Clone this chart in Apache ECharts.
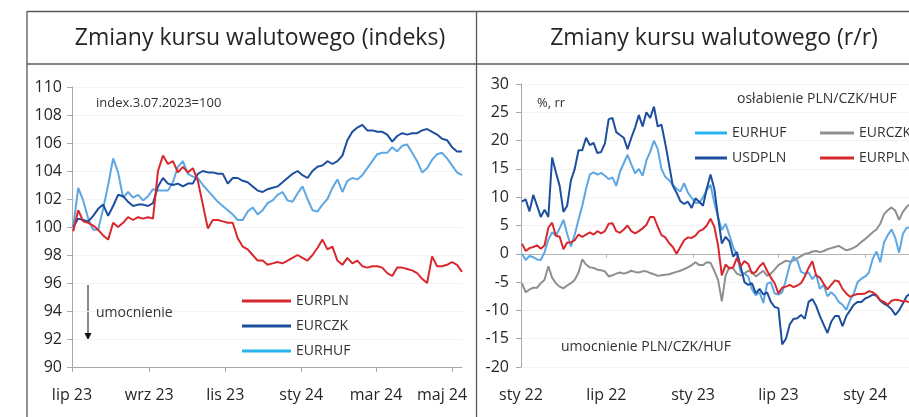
<!DOCTYPE html>
<html>
<head>
<meta charset="utf-8">
<script src="https://cdn.jsdelivr.net/npm/echarts@6/dist/echarts.min.js"></script>
<style>
  html, body { margin: 0; padding: 0; background: #fff; }
  #chart { width: 909px; height: 417px; }
</style>
</head>
<body>
<div id="chart"></div>
<script>
// ---- lewy panel: indeks, 3.07.2023 = 100 (wartosc co 4 dni, dzien 0 = 1.07.2023)
const idxDayStart = 1;
const idxDayStep = 4;
const idxTickDays = [0, 62, 123, 184, 244, 305];
const idxTickLabels = ['lip 23', 'wrz 23', 'lis 23', 'sty 24', 'mar 24', 'maj 24'];

const idxEURPLN = [
  99.7, 101.2, 100.4, 100.3, 100.1, 99.8, 99.4, 99.1, 100.3, 100.0,
  100.3, 100.7, 100.5, 100.7, 100.6, 100.7, 100.6, 104.0, 105.1, 104.5,
  104.7, 103.9, 104.3, 103.9, 104.2, 103.3, 101.6, 99.9, 100.5, 100.5,
  100.4, 100.3, 100.3, 99.2, 98.6, 98.4, 98.0, 97.6, 97.6, 97.3,
  97.4, 97.5, 97.4, 97.6, 97.8, 98.0, 97.8, 97.6, 98.0, 98.5,
  99.1, 98.4, 98.6, 97.6, 97.3, 97.8, 97.4, 97.6, 97.2, 97.1,
  97.2, 97.2, 97.1, 96.7, 96.5, 97.1, 97.1, 97.0, 96.9, 96.7,
  96.3, 96.0, 97.9, 97.2, 97.2, 97.3, 97.5, 97.3, 96.8
];
const idxEURCZK = [
  100.0, 100.6, 100.5, 100.4, 100.8, 101.3, 101.6, 100.8, 101.5, 102.3,
  102.2, 101.8, 101.5, 101.6, 101.6, 101.5, 101.7, 102.9, 103.5, 103.1,
  103.0, 103.1, 102.9, 103.1, 103.1, 103.8, 104.0, 103.9, 103.9, 103.8,
  103.8, 103.1, 103.5, 103.5, 103.3, 103.2, 102.9, 102.6, 102.5, 102.7,
  102.8, 102.9, 103.2, 103.5, 103.8, 104.0, 103.7, 103.5, 104.0, 104.3,
  104.4, 104.7, 104.5, 104.7, 105.1, 106.2, 106.8, 107.1, 107.3, 106.9,
  106.9, 106.8, 106.8, 106.6, 106.1, 106.5, 106.7, 106.6, 106.7, 106.7,
  106.9, 107.0, 106.8, 106.6, 106.3, 106.2, 105.7, 105.4, 105.4
];
const idxEURHUF = [
  100.0, 102.8, 101.9, 100.6, 99.8, 99.8, 101.3, 103.0, 104.9, 103.9,
  102.1, 102.5, 102.1, 102.3, 101.9, 102.2, 102.7, 102.6, 102.6, 102.6,
  103.2, 104.3, 104.7, 103.8, 103.6, 103.5, 103.0, 102.6, 102.2, 101.8,
  101.5, 101.2, 100.9, 100.5, 100.5, 101.1, 101.4, 100.9, 101.2, 101.7,
  101.9, 102.3, 102.5, 101.9, 101.8, 102.4, 102.9, 102.0, 101.2, 101.1,
  101.6, 102.0, 102.8, 103.4, 102.5, 103.3, 103.5, 103.4, 103.7, 104.2,
  104.7, 105.2, 105.3, 105.3, 105.7, 105.4, 105.8, 105.9, 105.3, 104.7,
  103.9, 104.2, 104.8, 105.2, 105.3, 104.9, 104.4, 103.9, 103.7
];

// ---- prawy panel: zmiana r/r w % (wartosc co 8 dni, dzien 0 = 1.01.2022)
const yoyDayStart = 2;
const yoyDayStep = 8;
const yoyTickDays = [0, 181, 365, 546, 730];
const yoyTickLabels = ['sty 22', 'lip 22', 'sty 23', 'lip 23', 'sty 24'];

const yoyUSDPLN = [
  9.2, 9.6, 7.5, 10.4, 8.5, 6.5, 7.8, 6.5, 17.0, 14.4,
  12.0, 7.4, 8.5, 13.0, 15.0, 18.3, 18.3, 20.5, 19.2, 19.6,
  17.8, 18.0, 19.5, 23.8, 24.0, 21.5, 21.0, 20.5, 18.5, 20.5,
  22.3, 24.5, 22.5, 25.0, 24.0, 26.0, 22.5, 22.8, 19.5, 15.8,
  12.0, 10.8, 9.3, 8.8, 9.2, 8.1, 9.8, 9.2, 8.5, 11.5,
  14.0, 11.5, 6.5, 1.8, 3.0, 2.2, -0.5, 0.3, -2.3, -5.0,
  -5.5, -5.2, -7.0, -6.2, -7.2, -6.8, -8.5, -9.4, -9.6, -16.0,
  -15.0, -12.5, -11.5, -11.4, -10.8, -11.5, -8.5, -8.0, -9.2, -11.0,
  -12.5, -14.0, -12.0, -11.0, -11.0, -12.8, -11.0, -10.0, -9.0, -8.5,
  -8.5, -7.9, -7.6, -7.2, -7.4, -8.3, -8.8, -9.2, -9.8, -10.8,
  -10.0, -8.8, -7.5, -7.0
];
const yoyEURHUF = [
  0.0, -1.1, -0.4, -0.6, -1.0, -1.1, 0.3, 2.5, 3.8, 3.2,
  4.5, 6.0, 3.5, 1.3, 3.4, 6.0, 8.5, 11.5, 14.0, 14.4,
  14.0, 14.3, 13.8, 13.2, 13.5, 12.0, 14.5, 16.0, 17.5, 15.8,
  14.2, 15.0, 13.8, 16.5, 18.0, 20.0, 18.5, 15.0, 13.6, 13.0,
  12.2, 11.5, 11.0, 12.5, 10.8, 9.9, 9.0, 9.0, 10.0, 11.3,
  12.2, 9.0, 6.5, 4.2, 5.3, 3.3, 1.2, -0.3, -3.2, -3.5,
  -4.0, -6.3, -7.3, -6.8, -8.7, -5.3, -5.0, -7.0, -7.2, -6.8,
  -4.6, -2.0, -0.5, -1.2, -3.2, -3.5, -3.3, -4.5, -3.6, -6.2,
  -5.5, -7.5, -6.8, -7.4, -8.5, -9.0, -9.9, -8.2, -7.0, -5.0,
  -4.4, -4.0, -3.3, -0.9, 0.4, -1.5, 2.0, 3.3, 4.3, 2.8,
  0.2, 3.5, 4.6, 4.6
];
const yoyEURCZK = [
  -5.2, -6.8, -6.3, -6.0, -6.0, -5.2, -4.6, -2.2, -4.2, -5.2,
  -5.8, -6.1, -5.6, -5.2, -4.6, -3.3, -1.0, -1.9, -2.4, -2.5,
  -2.8, -2.9, -3.1, -4.0, -3.8, -3.5, -3.3, -3.5, -3.3, -3.0,
  -3.2, -3.3, -3.1, -3.1, -3.4, -3.6, -3.9, -3.8, -3.7, -3.6,
  -3.4, -3.2, -3.0, -2.7, -2.4, -2.0, -1.5, -2.0, -2.0, -1.5,
  -1.6, -3.0, -4.6, -8.4, -3.8, -2.4, -2.6, -3.5, -3.8, -3.5,
  -3.0, -3.2, -4.0, -3.5, -3.0, -3.9, -3.5, -2.8, -2.0, -1.6,
  -1.2, -1.4, -1.2, -0.8, -0.4, 0.0, 0.1, 0.4, 0.5, 0.3,
  0.5, 0.8, 1.0, 1.2, 1.4, 1.0, 0.6, 0.8, 1.1, 1.5,
  2.1, 2.6, 3.2, 3.8, 4.3, 5.3, 7.0, 7.7, 8.2, 7.6,
  6.0, 7.4, 8.3, 8.8
];
const yoyEURPLN = [
  1.8, 0.5, 1.0, 1.2, 1.5, 0.9, 1.5, 4.6, 5.5, 3.2,
  3.0, 0.8, 2.0, 2.0, 2.4, 3.4, 3.0, 3.4, 3.8, 3.4,
  4.0, 3.6, 4.0, 5.3, 5.4, 4.0, 3.7, 4.3, 5.0, 4.0,
  3.6, 4.0, 4.5, 5.1, 6.5, 6.5, 4.8, 3.3, 2.9, 1.9,
  1.2, 0.0, 1.2, 2.4, 2.9, 2.8, 3.2, 4.0, 4.3, 5.0,
  6.2, 4.8, 1.5, -3.8, -1.9, -2.6, -2.4, -0.7, -2.2, -1.3,
  -1.8, -3.5, -3.2, -2.2, -1.6, -3.0, -4.2, -5.2, -7.0, -6.0,
  -5.8, -5.5, -5.9, -5.6, -5.2, -4.0, -2.5, -1.3, -3.8, -4.2,
  -5.3, -6.3, -5.5, -4.7, -4.9, -6.2, -7.0, -7.6, -7.3, -7.1,
  -7.1, -7.0, -6.6, -6.8, -7.3, -8.2, -8.5, -9.0, -8.3, -8.1,
  -8.2, -8.4, -8.4, -8.6
];

const RED = '#d7282e';
const NAVY = '#1d4f9e';
const LIGHT = '#5ea7e2';
const CYAN = '#27b4ef';
const GREY = '#8f8f8f';
const FONT = '"Open Sans", "Noto Sans", sans-serif';

// zamiana tablicy wartosci na pary [dzien, wartosc]
const toPairs = (values, start, step) => values.map((v, i) => [start + i * step, v]);

// podpis osi X wg wartosci (dzien) -> nazwa miesiaca
const monthLabel = (days, labels, padLast) => (v) => {
  const i = days.indexOf(v);
  if (i < 0) return '';
  return (padLast && i === days.length - 1) ? '{last|' + labels[i] + '}' : labels[i];
};

const chart = echarts.init(document.getElementById('chart'));

const frameLine = (x1, y1, x2, y2) => ({
  type: 'line', silent: true,
  shape: { x1, y1, x2, y2 },
  style: { stroke: '#5a5a5a', lineWidth: 1.3 }
});
const note = (x, y, text, size) => ({
  type: 'text', silent: true, z: 10,
  style: { x, y, text, fill: '#333', font: size + 'px ' + FONT, textVerticalAlign: 'middle' }
});
const legendBox = (left, top, names, colors, opts) => Object.assign({
  orient: 'vertical', left, top, icon: 'rect', itemHeight: 3,
  textStyle: { fontSize: 14, lineHeight: 16, color: '#333' },
  data: names.map((n, i) => ({ name: n, itemStyle: { color: colors[i] } }))
}, opts);

const option = {
  animation: false,
  backgroundColor: '#fff',
  textStyle: { fontFamily: FONT },
  grid: [
    { left: 72, top: 87, width: 390, height: 280 },
    { left: 521, top: 84, right: 0, height: 283 }
  ],
  xAxis: [
    {
      gridIndex: 0, type: 'value', min: 0, max: 313,
      axisLine: { lineStyle: { color: '#a8a8a8' } },
      axisTick: { customValues: idxTickDays, length: 5, lineStyle: { color: '#a8a8a8' } },
      axisLabel: {
        customValues: idxTickDays, margin: 20, fontSize: 16, color: '#262626',
        formatter: monthLabel(idxTickDays, idxTickLabels, true),
        rich: { last: { fontSize: 16, color: '#262626', padding: [0, 20, 0, 0] } }
      },
      splitLine: { show: false }
    },
    {
      gridIndex: 1, type: 'value', min: 0, max: 823,
      axisLine: { show: false, onZero: false },
      axisTick: { show: false },
      axisLabel: {
        customValues: yoyTickDays, margin: 20, fontSize: 16, color: '#262626',
        formatter: monthLabel(yoyTickDays, yoyTickLabels, false)
      },
      splitLine: { show: false }
    },
    {
      gridIndex: 1, type: 'value', min: 0, max: 823,
      axisLine: { onZero: true, lineStyle: { color: '#b4b4b4' } },
      axisTick: { customValues: yoyTickDays, inside: true, length: 4, lineStyle: { color: '#b4b4b4' } },
      axisLabel: { show: false },
      splitLine: { show: false }
    }
  ],
  yAxis: [
    {
      gridIndex: 0, type: 'value', min: 90, max: 110, interval: 2,
      axisLine: { show: true, lineStyle: { color: '#a8a8a8' } },
      axisTick: { show: true, length: 5, lineStyle: { color: '#a8a8a8' } },
      axisLabel: { margin: 10, fontSize: 16, color: '#262626' },
      splitLine: { lineStyle: { color: '#f3f3f3' } }
    },
    {
      gridIndex: 1, type: 'value', min: -20, max: 30, interval: 5,
      axisLine: { show: true, lineStyle: { color: '#a8a8a8' } },
      axisTick: { show: true, length: 5, lineStyle: { color: '#a8a8a8' } },
      axisLabel: { margin: 12, fontSize: 16, color: '#262626' },
      splitLine: { lineStyle: { color: '#f3f3f3' } }
    }
  ],
  legend: [
    legendBox(237, 288, ['EURPLN', 'EURCZK', 'EURHUF'], [RED, NAVY, CYAN],
      { itemWidth: 49, itemGap: 9, itemTextGap: 14 }),
    legendBox(690, 120, ['EURHUF', 'USDPLN'], [CYAN, NAVY],
      { itemWidth: 32, itemGap: 9, itemTextGap: 15 }),
    legendBox(815, 120, ['EURCZK', 'EURPLN'], [GREY, RED],
      { itemWidth: 34, itemGap: 9, itemTextGap: 14 })
  ],
  series: [
    { name: 'EURHUF', data: toPairs(idxEURHUF, idxDayStart, idxDayStep), xAxisIndex: 0, yAxisIndex: 0, color: LIGHT },
    { name: 'EURCZK', data: toPairs(idxEURCZK, idxDayStart, idxDayStep), xAxisIndex: 0, yAxisIndex: 0, color: NAVY },
    { name: 'EURPLN', data: toPairs(idxEURPLN, idxDayStart, idxDayStep), xAxisIndex: 0, yAxisIndex: 0, color: RED },
    { name: 'EURCZK', data: toPairs(yoyEURCZK, yoyDayStart, yoyDayStep), xAxisIndex: 1, yAxisIndex: 1, color: GREY },
    { name: 'EURHUF', data: toPairs(yoyEURHUF, yoyDayStart, yoyDayStep), xAxisIndex: 1, yAxisIndex: 1, color: LIGHT },
    { name: 'USDPLN', data: toPairs(yoyUSDPLN, yoyDayStart, yoyDayStep), xAxisIndex: 1, yAxisIndex: 1, color: NAVY },
    { name: 'EURPLN', data: toPairs(yoyEURPLN, yoyDayStart, yoyDayStep), xAxisIndex: 1, yAxisIndex: 1, color: RED }
  ].map(s => Object.assign({
    type: 'line', showSymbol: false, symbol: 'none',
    lineStyle: { width: 2 }, emphasis: { disabled: true }
  }, s)),
  graphic: [
    // ramka i naglowki
    frameLine(27, 11.5, 909, 11.5),
    frameLine(27, 64, 909, 64),
    frameLine(27, 11, 27, 417),
    frameLine(476.5, 11, 476.5, 417),
    {
      type: 'text', silent: true,
      style: { x: 260, y: 38, text: 'Zmiany kursu walutowego (indeks)', fill: '#262626',
        font: '23px ' + FONT, textAlign: 'center', textVerticalAlign: 'middle' }
    },
    {
      type: 'text', silent: true,
      style: { x: 714, y: 38, text: 'Zmiany kursu walutowego (r/r)', fill: '#262626',
        font: '23px ' + FONT, textAlign: 'center', textVerticalAlign: 'middle' }
    },
    // opisy lewego panelu
    note(96, 103, 'index.3.07.2023=100', 13),
    note(96, 313, 'umocnienie', 14),
    {
      type: 'line', silent: true,
      shape: { x1: 88, y1: 285, x2: 88, y2: 334 },
      style: { stroke: '#111', lineWidth: 1 }
    },
    {
      type: 'polygon', silent: true,
      shape: { points: [[84.5, 333], [91.5, 333], [88, 340]] },
      style: { fill: '#111' }
    },
    // opisy prawego panelu
    note(537, 103, '%, rr', 13),
    note(737, 99, 'osłabienie PLN/CZK/HUF', 14),
    note(561, 347, 'umocnienie PLN/CZK/HUF', 14)
  ]
};

chart.setOption(option);
</script>
</body>
</html>
